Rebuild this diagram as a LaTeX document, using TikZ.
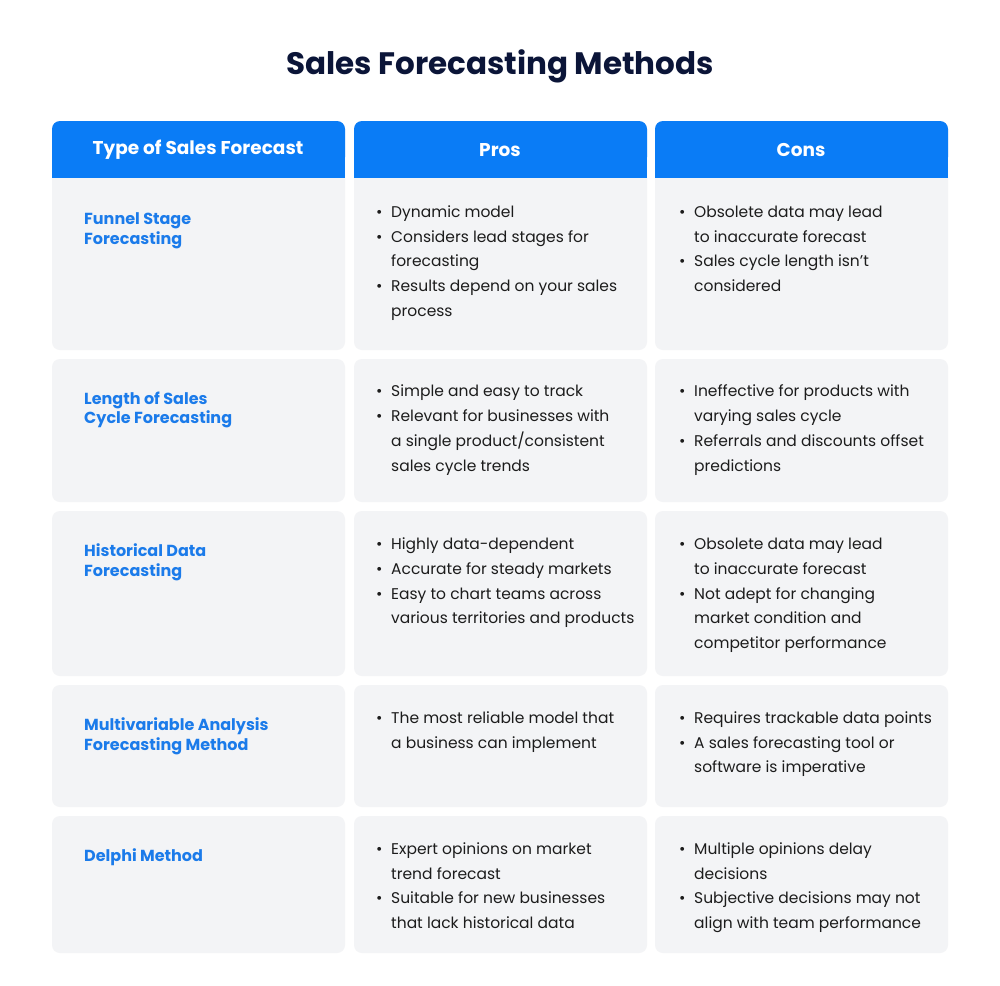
\documentclass[tikz,border=0pt]{standalone}
\usepackage{fontspec}
\setmainfont{Poppins}
\definecolor{hdr}{HTML}{0A7CF6}
\definecolor{cellbg}{HTML}{F3F4F6}
\definecolor{lbl}{HTML}{1B7BEA}
\definecolor{ttl}{HTML}{0B1538}
\definecolor{txt}{HTML}{1C1C1C}
\newcounter{nn}
\tikzset{
 ln/.style={anchor=base west,inner sep=0,text=txt,font=\fontsize{15.5}{18}\selectfont},
 lb/.style={anchor=base west,inner sep=0,text=lbl,font=\fontsize{16}{18}\selectfont\bfseries},
 hd/.style={inner sep=0,text=white,font=\fontsize{18.5}{20}\selectfont\bfseries},
 cellbox/.style={fill=cellbg,rounded corners=8pt}
}
\newcommand{\Ln}[3]{\stepcounter{nn}\node[ln] (n\thenn) at (#1,#2+5.5) {#3};}
\newcommand{\Bl}[3]{\stepcounter{nn}\node[ln] (b\thenn) at (#1-15,#2+5.5) {•};\Ln{#1}{#2}{#3}}
\newcommand{\Lb}[2]{\stepcounter{nn}\node[lb] (l\thenn) at (84,#1+5.5) {#2};}
\begin{document}
\begin{tikzpicture}[x=1pt,y=-1pt]
\useasboundingbox[fill=white] (0,0) rectangle (1000,985);
\node[inner sep=0,text=ttl,font=\fontsize{31}{34}\selectfont\bfseries] (title) at (500,66) {Sales Forecasting Methods};
% boxes
\foreach \xa/\xb in {52/345,354/647,655/948}{
 \fill[cellbox] (\xa,121) rectangle (\xb,350);
 \fill[hdr,rounded corners=8pt] (\xa,121) rectangle (\xb,165);
 \fill[hdr] (\xa,150) rectangle (\xb,178);
 \foreach \ya/\yb in {359/502,511/676,685/807,816/953}{
  \fill[cellbox] (\xa,\ya) rectangle (\xb,\yb);
 }
}
\node[hd] (h1) at (198,150) {Type of Sales Forecast};
\node[hd] (h2) at (500,150) {Pros};
\node[hd] (h3) at (801,150) {Cons};
% row 1
\Lb{219}{Funnel Stage}\Lb{239}{Forecasting}
\Bl{391}{212}{Dynamic model}
\Bl{391}{237}{Considers lead stages for}
\Ln{391}{261}{forecasting}
\Bl{391}{286}{Results depend on your sales}
\Ln{391}{311}{process}
\Bl{694}{212}{Obsolete data may lead}
\Ln{694}{237}{to inaccurate forecast}
\Bl{694}{261}{Sales cycle length isn't}
\Ln{694}{286}{considered}
% row 2
\Lb{399}{Length of Sales}\Lb{418}{Cycle Forecasting}
\Bl{391}{391}{Simple and easy to track}
\Bl{391}{416}{Relevant for businesses with}
\Ln{391}{441}{a single product/consistent}
\Ln{391}{466}{sales cycle trends}
\Bl{694}{391}{Ineffective for products with}
\Ln{694}{416}{varying sales cycle}
\Bl{694}{441}{Referrals and discounts offset}
\Ln{694}{466}{predictions}
% row 3
\Lb{551}{Historical Data}\Lb{571}{Forecasting}
\Bl{391}{544}{Highly data-dependent}
\Bl{391}{569}{Accurate for steady markets}
\Bl{391}{594}{Easy to chart teams across}
\Ln{391}{618}{various territories and products}
\Bl{694}{544}{Obsolete data may lead}
\Ln{694}{569}{to inaccurate forecast}
\Bl{694}{594}{Not adept for changing}
\Ln{694}{618}{market condition and}
\Ln{694}{643}{competitor performance}
% row 4
\Lb{725}{Multivariable Analysis}\Lb{745}{Forecasting Method}
\Bl{391}{718}{The most reliable model that}
\Ln{391}{743}{a business can implement}
\Bl{694}{718}{Requires trackable data points}
\Bl{694}{743}{A sales forecasting tool or}
\Ln{694}{767}{software is imperative}
% row 5
\Lb{856}{Delphi Method}
\Bl{391}{849}{Expert opinions on market}
\Ln{391}{874}{trend forecast}
\Bl{391}{898}{Suitable for new businesses}
\Ln{391}{923}{that lack historical data}
\Bl{694}{849}{Multiple opinions delay}
\Ln{694}{874}{decisions}
\Bl{694}{898}{Subjective decisions may not}
\Ln{694}{923}{align with team performance}
\end{tikzpicture}
\end{document}
